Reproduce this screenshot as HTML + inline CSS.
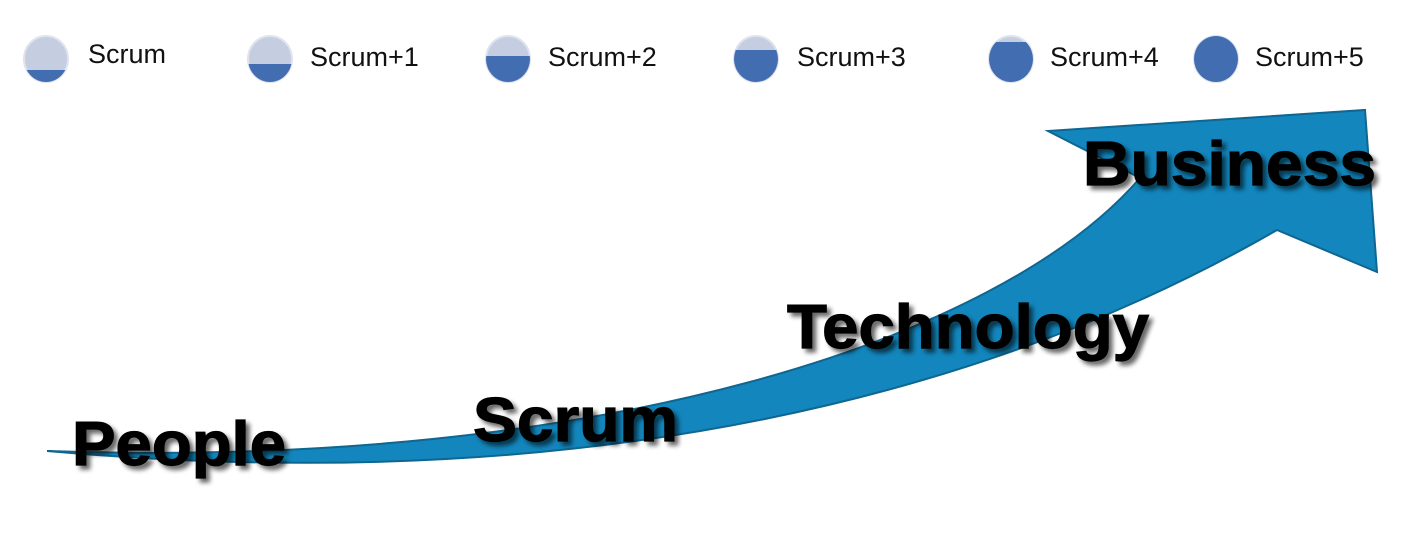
<!DOCTYPE html>
<html><head><meta charset="utf-8"><style>
html,body{margin:0;padding:0;background:#fff;}
svg{display:block;}
</style></head><body>
<svg width="1402" height="538" viewBox="0 0 1402 538" xmlns="http://www.w3.org/2000/svg">
<defs>
<filter id="sh" x="-10%" y="-20%" width="130%" height="150%">
<feGaussianBlur in="SourceAlpha" stdDeviation="2.5"/>
<feOffset dx="4" dy="4" result="o"/>
<feComponentTransfer><feFuncA type="linear" slope="0.6"/></feComponentTransfer>
<feMerge><feMergeNode/><feMergeNode in="SourceGraphic"/></feMerge>
</filter>
<clipPath id="c1"><ellipse cx="46" cy="59" rx="22" ry="23"/></clipPath>
<clipPath id="c2"><ellipse cx="270" cy="59" rx="22" ry="23"/></clipPath>
<clipPath id="c3"><ellipse cx="508" cy="59" rx="22" ry="23"/></clipPath>
<clipPath id="c4"><ellipse cx="756" cy="59" rx="22" ry="23"/></clipPath>
<clipPath id="c5"><ellipse cx="1011" cy="59" rx="22" ry="23"/></clipPath>
<clipPath id="c6"><ellipse cx="1216" cy="59" rx="22" ry="23"/></clipPath>
</defs>
<g stroke="#dfe3ee" stroke-width="2">
<ellipse cx="46" cy="59" rx="22" ry="23" fill="#c5cde0"/>
<ellipse cx="270" cy="59" rx="22" ry="23" fill="#c5cde0"/>
<ellipse cx="508" cy="59" rx="22" ry="23" fill="#c5cde0"/>
<ellipse cx="756" cy="59" rx="22" ry="23" fill="#c5cde0"/>
<ellipse cx="1011" cy="59" rx="22" ry="23" fill="#c5cde0"/>
<ellipse cx="1216" cy="59" rx="22" ry="23" fill="#c5cde0"/>
</g>
<g fill="#426db0">
<rect x="20" y="70" width="60" height="20" clip-path="url(#c1)"/>
<rect x="244" y="64" width="60" height="30" clip-path="url(#c2)"/>
<rect x="482" y="56" width="60" height="40" clip-path="url(#c3)"/>
<rect x="730" y="50" width="60" height="40" clip-path="url(#c4)"/>
<rect x="985" y="42" width="60" height="50" clip-path="url(#c5)"/>
<rect x="1190" y="30" width="60" height="60" clip-path="url(#c6)"/>
</g>
<g font-family="Liberation Sans, sans-serif" font-size="27" fill="#111">
<text x="88" y="63">Scrum</text>
<text x="310" y="66">Scrum+1</text>
<text x="548" y="66">Scrum+2</text>
<text x="797" y="66">Scrum+3</text>
<text x="1050" y="66">Scrum+4</text>
<text x="1255" y="66">Scrum+5</text>
</g>
<path d="M47,451 C 600,470 1000,340 1140,178 L1048,131 L1365,110 L1377,272 L1277,230 C 1000,390 600,500 47,451 Z" fill="#1286bd" stroke="#0f6690" stroke-width="2" stroke-linejoin="miter"/>
<g font-family="Liberation Sans, sans-serif" font-weight="bold" font-size="62" fill="#000" stroke="#000" stroke-width="1.2" filter="url(#sh)">
<text x="72" y="465" textLength="214" lengthAdjust="spacingAndGlyphs">People</text>
<text x="473" y="441" textLength="205" lengthAdjust="spacingAndGlyphs">Scrum</text>
<text x="787" y="348" textLength="362" lengthAdjust="spacingAndGlyphs">Technology</text>
<text x="1083" y="185" textLength="293" lengthAdjust="spacingAndGlyphs">Business</text>
</g>
</svg>
</body></html>
